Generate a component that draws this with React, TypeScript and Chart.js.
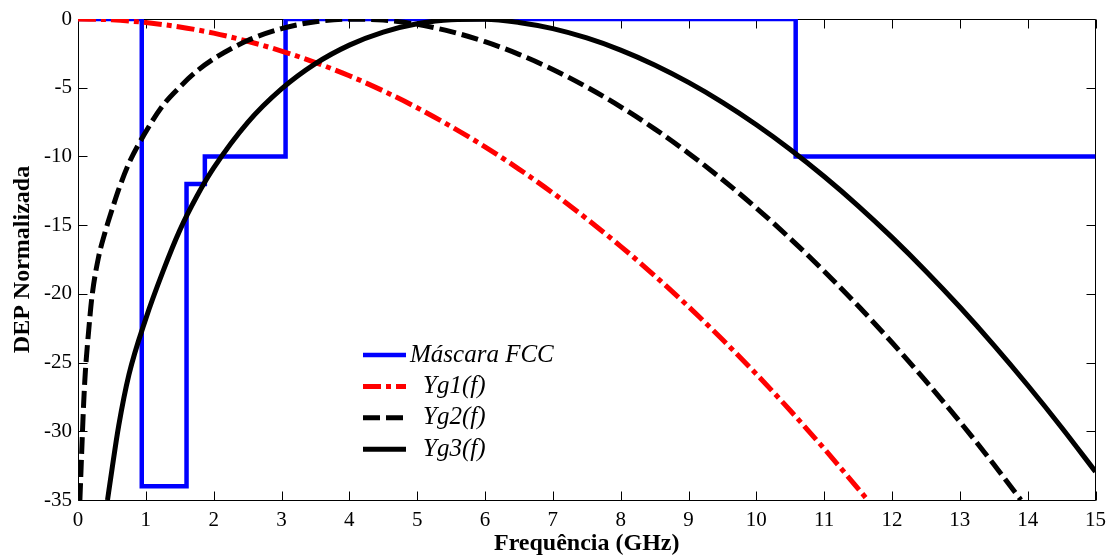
import React, { useEffect, useRef } from "react";
import { Chart, registerables } from "chart.js";

Chart.register(...registerables);

// ---- Data ----
const maskLabel = "Máscara FCC";
const maskFreq = [0, 0.94, 1.6, 1.87, 3.06, 10.58, 15];
const maskDb = [0, -34, -12, -10, 0, -10, -10];

const yg1Label = "Yg1(f)";
const yg1Freq = [0, 0.5, 1, 1.5, 2, 2.5, 3, 3.5, 4, 4.5, 5, 5.5, 6, 6.5, 7, 7.5, 8, 8.5, 9, 9.5, 10, 10.5, 11, 11.5, 11.64];
const yg1Db = [0, -0.06, -0.26, -0.58, -1.03, -1.62, -2.33, -3.17, -4.13, -5.23, -6.46, -7.82, -9.3, -10.92, -12.66, -14.54, -16.54, -18.67, -20.93, -23.32, -25.84, -28.49, -31.27, -34.17, -35];

const yg2Label = "Yg2(f)";
const yg2Freq = [0.028, 0.06, 0.083, 0.108, 0.157, 0.206, 0.3, 0.4, 0.5, 0.6, 0.75, 1, 1.25, 1.5, 1.75, 2, 2.5, 3, 3.5, 4, 4.5, 5, 5.5, 6, 6.5, 7, 7.5, 8, 8.5, 9, 9.5, 10, 10.5, 11, 11.5, 12, 12.5, 13, 13.5, 13.9];
const yg2Db = [-35, -30.8, -28.0, -25.7, -22.7, -20.2, -17.4, -15.5, -13.9, -12.4, -10.5, -8.2, -6.3, -4.95, -3.8, -2.9, -1.57, -0.7, -0.2, -0.01, -0.08, -0.39, -0.92, -1.65, -2.57, -3.67, -4.95, -6.39, -7.99, -9.76, -11.68, -13.75, -15.98, -18.35, -20.87, -23.54, -26.35, -29.3, -32.4, -35];

const yg3Label = "Yg3(f)";
const yg3Freq = [0.435, 0.5, 0.6, 0.75, 1, 1.25, 1.5, 1.75, 2, 2.5, 3, 3.5, 4, 4.5, 5, 5.5, 6, 6.5, 7, 7.5, 8, 8.5, 9, 9.5, 10, 10.5, 11, 11.5, 12, 12.5, 13, 13.5, 14, 14.5, 15];
const yg3Db = [-35, -32.8, -29.6, -25.9, -21.8, -18.4, -15.38, -12.92, -10.84, -7.54, -5.09, -3.25, -1.9, -0.95, -0.35, -0.05, -0.02, -0.25, -0.7, -1.38, -2.26, -3.34, -4.61, -6.06, -7.69, -9.49, -11.46, -13.59, -15.89, -18.35, -20.96, -23.73, -26.65, -29.72, -32.94];

const xTitle = "Frequência (GHz)";
const yTitle = "DEP Normalizada";

const toPoints = (xs: number[], ys: number[]) => xs.map((x, i) => ({ x, y: ys[i] }));

const SERIF = '"Liberation Serif", "Times New Roman", serif';

const boxPlugin = {
  id: "matlabBox",
  beforeDatasetsDraw(chart: any) {
    const { ctx, chartArea: a, scales } = chart;
    const tl = 9;
    ctx.save();
    ctx.strokeStyle = "#000";
    ctx.lineWidth = 1;
    const L = Math.round(a.left) + 0.5;
    const R = Math.round(a.right) - 0.5;
    const T = Math.round(a.top) + 0.5;
    const B = Math.round(a.bottom) + 0.5;
    ctx.beginPath();
    ctx.rect(L, T, R - L, B - T);
    ctx.stroke();
    ctx.beginPath();
    scales.x.ticks.forEach((t: any) => {
      const px = Math.round(scales.x.getPixelForValue(t.value)) + 0.5;
      ctx.moveTo(px, B);
      ctx.lineTo(px, B - tl);
      ctx.moveTo(px, T);
      ctx.lineTo(px, T + tl);
    });
    scales.y.ticks.forEach((t: any) => {
      const py = Math.round(scales.y.getPixelForValue(t.value)) + 0.5;
      ctx.moveTo(L, py);
      ctx.lineTo(L + tl, py);
      ctx.moveTo(R, py);
      ctx.lineTo(R - tl, py);
    });
    ctx.stroke();
    ctx.restore();
  },
};

const legendPlugin = {
  id: "insideLegend",
  afterDatasetsDraw(chart: any, _args: any, opts: any) {
    const { ctx, chartArea: a } = chart;
    const x0 = a.left + opts.offsetX;
    const y0 = a.top + opts.offsetY;
    ctx.save();
    chart.data.datasets.forEach((ds: any, i: number) => {
      const y = y0 + i * opts.rowGap;
      ctx.beginPath();
      ctx.setLineDash(ds.borderDash || []);
      ctx.lineWidth = ds.borderWidth;
      ctx.strokeStyle = ds.borderColor;
      ctx.lineCap = "butt";
      ctx.moveTo(x0, y);
      ctx.lineTo(x0 + opts.lineLen, y);
      ctx.stroke();
      ctx.setLineDash([]);
      ctx.fillStyle = "#000";
      ctx.font = `italic 25px ${SERIF}`;
      ctx.textBaseline = "middle";
      ctx.textAlign = "left";
      ctx.fillText(ds.label, x0 + opts.lineLen + 4 + (opts.indent[i] || 0), y);
    });
    ctx.restore();
  },
};

export default function App() {
  const ref = useRef<HTMLCanvasElement | null>(null);

  useEffect(() => {
    if (!ref.current) return;
    const chart = new Chart(ref.current, {
      type: "line",
      data: {
        datasets: [
          {
            label: maskLabel,
            data: toPoints(maskFreq, maskDb),
            borderColor: "#0000ff",
            borderWidth: 4.5,
            stepped: "before",
            pointRadius: 0,
            borderJoinStyle: "miter",
            order: 4,
          },
          {
            label: yg1Label,
            data: toPoints(yg1Freq, yg1Db),
            borderColor: "#ff0000",
            borderWidth: 5,
            borderDash: [18, 5, 5, 5],
            pointRadius: 0,
            cubicInterpolationMode: "monotone",
            order: 3,
          },
          {
            label: yg2Label,
            data: toPoints(yg2Freq, yg2Db),
            borderColor: "#000000",
            borderWidth: 5,
            borderDash: [17, 6],
            pointRadius: 0,
            cubicInterpolationMode: "monotone",
            order: 2,
          },
          {
            label: yg3Label,
            data: toPoints(yg3Freq, yg3Db),
            borderColor: "#000000",
            borderWidth: 5,
            pointRadius: 0,
            cubicInterpolationMode: "monotone",
            order: 1,
          },
        ],
      } as any,
      options: {
        animation: false,
        responsive: false,
        maintainAspectRatio: false,
        parsing: false as any,
        layout: { padding: { top: 19, right: 17, left: 0, bottom: 0 } },
        plugins: {
          legend: { display: false },
          tooltip: { enabled: false },
          insideLegend: { offsetX: 285, offsetY: 336, rowGap: 31.4, lineLen: 43, indent: [0, 13, 13, 13] },
        } as any,
        scales: {
          x: {
            type: "linear",
            min: 0,
            max: 15,
            position: "bottom",
            grid: { display: false, drawTicks: false },
            border: { display: false },
            ticks: { stepSize: 1, color: "#000", padding: 8, font: { family: SERIF, size: 21 } },
            title: {
              display: true,
              text: xTitle,
              color: "#000",
              font: { family: SERIF, size: 24, weight: "bold" },
              padding: { top: 0, bottom: 1 },
            },
            afterFit: (s: any) => {
              s.height = 59;
            },
          },
          y: {
            type: "linear",
            min: -35,
            max: 0,
            grid: { display: false, drawTicks: false },
            border: { display: false },
            ticks: { stepSize: 5, color: "#000", padding: 6, font: { family: SERIF, size: 21 } },
            title: {
              display: true,
              text: yTitle,
              color: "#000",
              font: { family: SERIF, size: 24, weight: "bold" },
              padding: { top: 8, bottom: 0 },
            },
            afterFit: (s: any) => {
              s.width = 78;
            },
          },
        },
      } as any,
      plugins: [boxPlugin, legendPlugin],
    });
    return () => chart.destroy();
  }, []);

  return (
    <div style={{ position: "fixed", left: 0, top: 0, width: 1114, height: 559, background: "#fff" }}>
      <canvas ref={ref} width={1114} height={559} style={{ display: "block" }} />
    </div>
  );
}
